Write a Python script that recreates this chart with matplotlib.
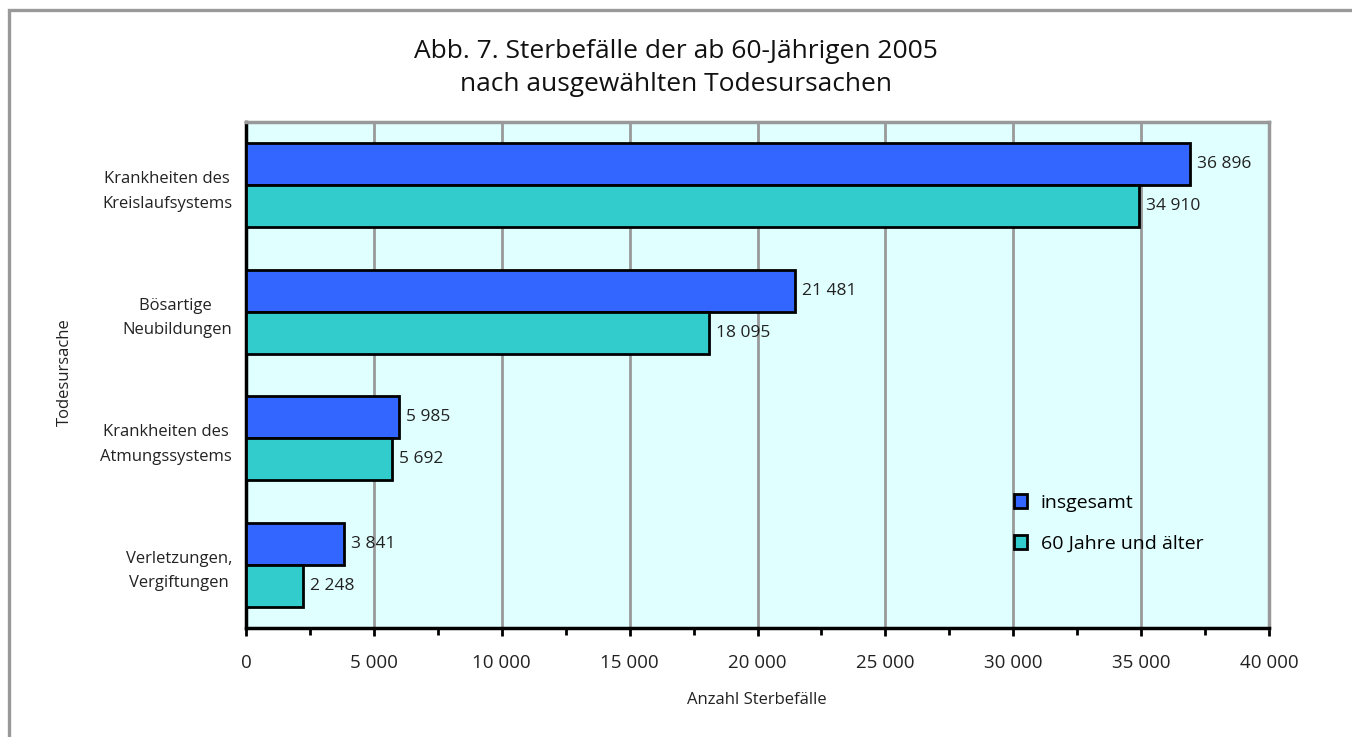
import numpy as np
import matplotlib.pyplot as plt
from matplotlib.lines import Line2D
from matplotlib.ticker import FuncFormatter, MultipleLocator

plt.rcParams['font.family'] = ['Open Sans', 'DejaVu Sans']

## the data
categories = ['Krankheiten des\nKreislaufsystems', 'Bösartige \nNeubildungen',
              'Krankheiten des\nAtmungssystems', 'Verletzungen,\nVergiftungen']
insgesamt = [36896, 21481, 5985, 3841]
ab60 = [34910, 18095, 5692, 2248]
series_names = ['insgesamt', '60 Jahre und älter']

blue = '#3366FF'
teal = '#33CCCC'

def fmt(v, pos=None):
    return '{:,}'.format(int(v)).replace(',', ' ')

W, H = 1352, 737
fig = plt.figure(figsize=(W/100, H/100), dpi=100)
ax = fig.add_axes([246/W, 1-628/H, (1269-246)/W, (628-122)/H])

# outer frame (only top and left edges are in view)
fig.lines.append(Line2D([9/W, 9/W, 1.0], [0.0, 1-9.5/H, 1-9.5/H], transform=fig.transFigure,
                        color='#999999', linewidth=2.4, solid_joinstyle='miter'))

ind = np.arange(len(categories))  # y locations
h = 0.333
b1 = ax.barh(ind - h/2, insgesamt, h, color=blue, edgecolor='black', linewidth=2, label=series_names[0], zorder=3)
b2 = ax.barh(ind + h/2, ab60, h, color=teal, edgecolor='black', linewidth=2, label=series_names[1], zorder=3)

for bars, vals in ((b1, insgesamt), (b2, ab60)):
    for bar, v in zip(bars, vals):
        ax.annotate(fmt(v), (v, bar.get_y() + bar.get_height()/2), xytext=(5, 0),
                    textcoords='offset points', va='center', ha='left', fontsize=12.5, color='#222222')

ax.set_facecolor('#E0FFFF')
ax.set_xlim(0, 40000)
ax.set_ylim(len(categories) - 0.5, -0.5)
ax.xaxis.set_major_locator(MultipleLocator(5000))
ax.xaxis.set_minor_locator(MultipleLocator(2500))
ax.xaxis.set_major_formatter(FuncFormatter(fmt))
ax.grid(axis='x', which='major', color='#999999', linewidth=2, zorder=0)
ax.set_axisbelow(True)

ax.set_yticks(ind)
ax.set_yticklabels(categories, fontsize=12, multialignment='center', linespacing=1.7, color='#222222')
ax.tick_params(axis='y', length=0, pad=10)
ax.tick_params(axis='x', which='major', length=6, width=2, labelsize=13.5, pad=13, labelcolor='#222222')
ax.tick_params(axis='x', which='minor', length=5, width=2)

for s in ('left', 'bottom'):
    ax.spines[s].set_color('black')
    ax.spines[s].set_linewidth(2.5)
for s in ('top', 'right'):
    ax.spines[s].set_color('#999999')
    ax.spines[s].set_linewidth(2.5)

fig.text(757/W, 1-700/H, 'Anzahl Sterbefälle', fontsize=12, ha='center', va='center', color='#222222')
fig.text(65/W, 1-372/H, 'Todesursache', rotation=90, fontsize=12, ha='center', va='center', color='#222222')

fig.text(676/W, 1-68/H, 'Abb. 7. Sterbefälle der ab 60-Jährigen 2005\nnach ausgewählten Todesursachen',
         ha='center', va='center', fontsize=19, linespacing=1.38, color='#111111')

ax.legend(loc='upper left', bbox_to_anchor=(0.741, 0.285), frameon=False, fontsize=14,
          handlelength=0.7, handleheight=0.7, labelspacing=1.2, handletextpad=0.7, borderpad=0)

plt.savefig('out.png', dpi=100)
